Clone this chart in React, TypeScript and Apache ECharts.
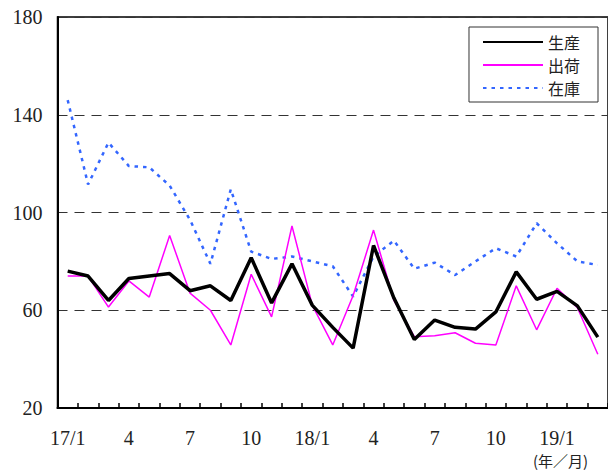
import React, { useEffect, useRef } from "react";
import * as echarts from "echarts";

const categories = [
  "17/1", "2", "3", "4", "5", "6", "7", "8", "9", "10", "11", "12",
  "18/1", "2", "3", "4", "5", "6", "7", "8", "9", "10", "11", "12",
  "19/1", "2", "3",
];
const production = [76, 74, 64, 73, 74, 75, 68, 70, 64, 81.5, 63, 79, 62, 53, 44.5, 86.5, 65, 48, 56, 53, 52.3, 59.3, 75.7, 64.5, 67.7, 61.8, 49];
const shipping = [74, 74, 61.3, 72, 65.4, 90.6, 67, 60, 45.8, 74.7, 57.3, 94.5, 62, 45.8, 66, 92.8, 64, 49.2, 49.6, 50.8, 46.5, 45.8, 70, 52, 69, 61, 42];
const inventory = [146, 111.5, 128.6, 119, 118.5, 111, 97, 79, 109.5, 84, 81, 82, 80, 78, 65.6, 82, 88.5, 77, 79.5, 74.4, 80, 85.4, 82, 95.6, 87.4, 80, 78.5];
const seriesNames = ["生産", "出荷", "在庫"];
const unitLabel = "(年／月)";

const serif = "Liberation Serif";
const jp = "Noto Sans CJK JP";

export default function App() {
  const ref = useRef<HTMLDivElement>(null);
  useEffect(() => {
    document.body.style.margin = "0";
    const chart = echarts.init(ref.current!, undefined, { renderer: "svg" });
    chart.setOption({
      animation: false,
      backgroundColor: "#fff",
      grid: {
        left: 57.5,
        right: -5.7,
        top: 17,
        bottom: 66,
        show: true,
        borderColor: "#000",
        borderWidth: 1.5,
      },
      legend: {
        orient: "vertical",
        right: 10,
        top: 27,
        data: seriesNames,
        itemWidth: 60,
        itemHeight: 14,
        itemGap: 7,
        padding: [7, 18, 6, 13],
        borderColor: "#333",
        borderWidth: 1,
        backgroundColor: "#fff",
        itemStyle: { opacity: 0 },
        textStyle: { fontFamily: jp, fontSize: 16, lineHeight: 16, color: "#222" },
        z: 10,
      },
      xAxis: {
        type: "category",
        data: categories,
        boundaryGap: true,
        axisLine: { lineStyle: { color: "#000", width: 2 } },
        axisTick: { show: true, inside: true, length: 5, interval: 0, lineStyle: { color: "#000", width: 1.5 } },
        axisLabel: { interval: 2, margin: 20, fontFamily: serif, fontSize: 20, color: "#222" },
      },
      yAxis: {
        type: "value",
        min: 20,
        max: 180,
        interval: 40,
        axisLine: { show: true, lineStyle: { color: "#000", width: 2 } },
        axisTick: { show: false },
        axisLabel: { margin: 15, fontFamily: serif, fontSize: 20, color: "#222" },
        splitLine: { show: true, lineStyle: { color: "#333", width: 1.2, type: [10, 7] } },
      },
      series: [
        {
          name: seriesNames[0],
          type: "line",
          data: production,
          symbol: "none",
          lineStyle: { color: "#000", width: 3.5 },
          itemStyle: { color: "#000" },
          z: 4,
        },
        {
          name: seriesNames[1],
          type: "line",
          data: shipping,
          symbol: "none",
          lineStyle: { color: "#ff00ff", width: 1.5 },
          itemStyle: { color: "#ff00ff" },
          z: 3,
        },
        {
          name: seriesNames[2],
          type: "line",
          data: inventory,
          symbol: "none",
          lineStyle: { color: "#3366ff", width: 2.5, type: [3.5, 5] },
          itemStyle: { color: "#3366ff" },
          z: 2,
        },
      ],
      graphic: [
        {
          type: "text",
          left: 533,
          top: 453,
          style: { text: unitLabel, fontFamily: jp, fontSize: 15, fill: "#222" },
        },
      ],
    });
    return () => chart.dispose();
  }, []);
  return <div ref={ref} style={{ width: 608, height: 474 }} />;
}
